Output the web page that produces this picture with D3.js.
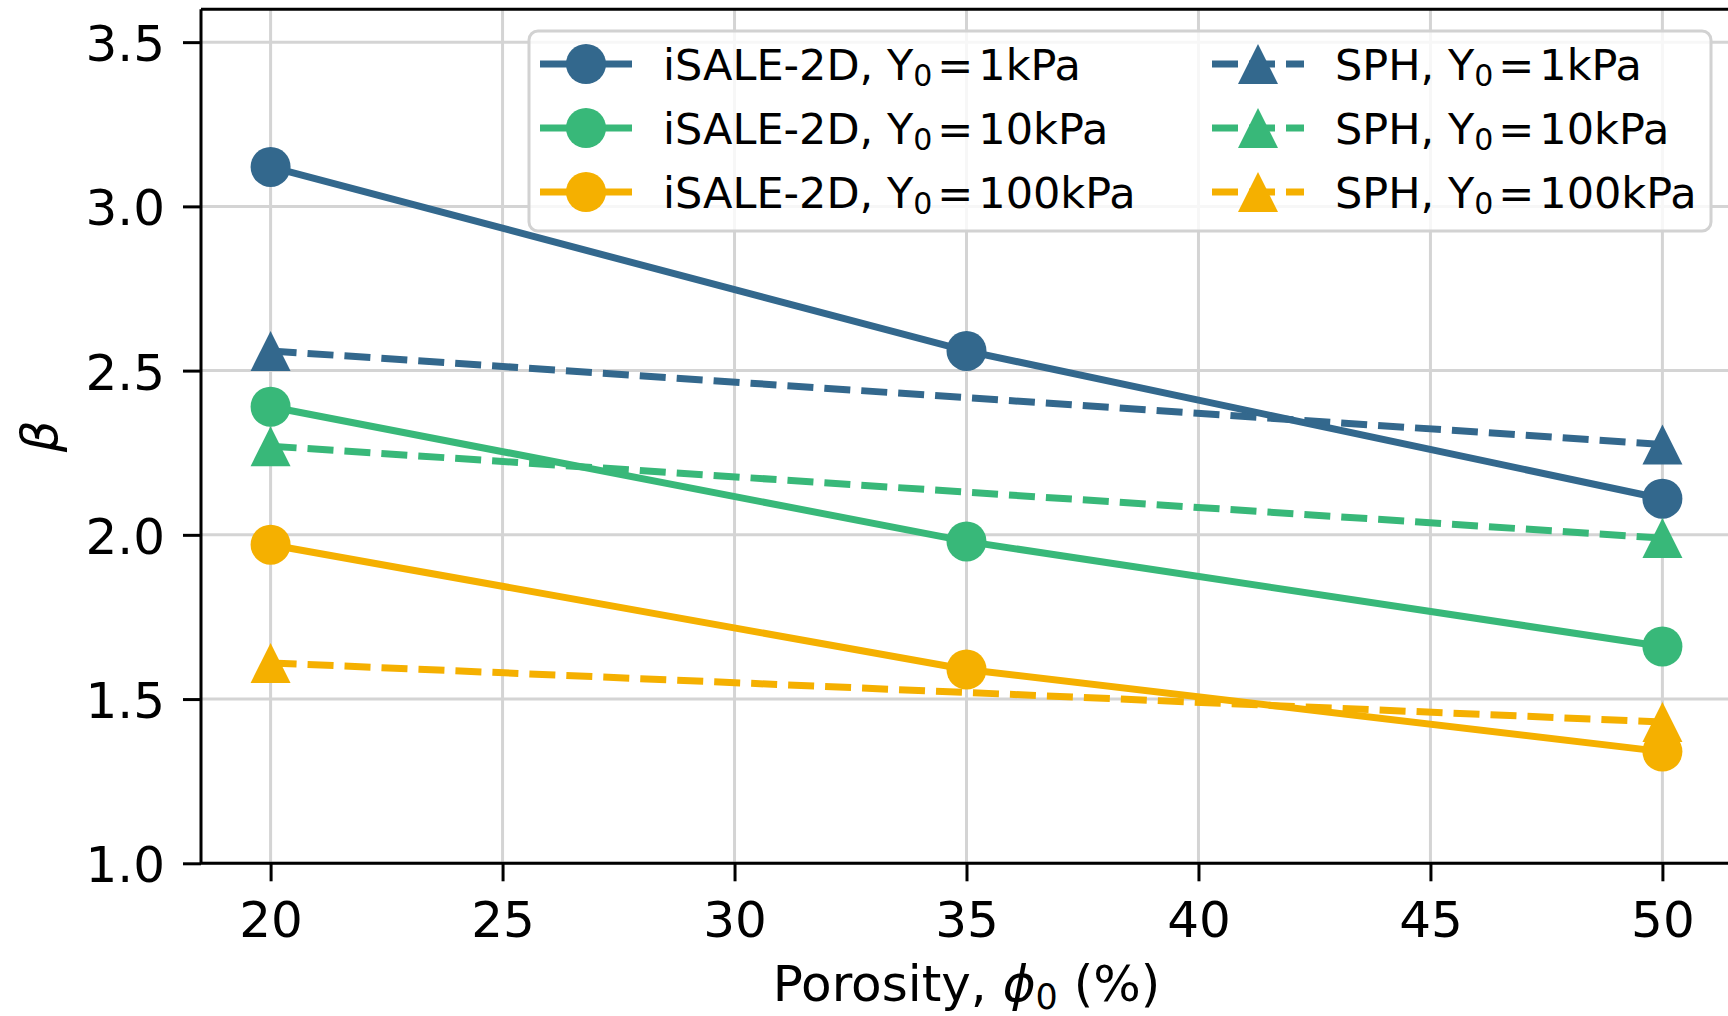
<!DOCTYPE html>
<html>
<head>
<meta charset="utf-8">
<script src="https://cdn.jsdelivr.net/npm/d3@7"></script>
<style>
  html, body { margin: 0; padding: 0; background: #fff; overflow: hidden; }
  svg { display: block; }
  text { font-family: "DejaVu Sans", sans-serif; fill: #000; }
</style>
</head>
<body>
<svg id="chart" width="1728" height="1016"></svg>
<script>
// ---------- data ----------
const porosity = [20, 35, 50];
const sphPorosity = [20, 50];
const isale1kPa = [3.12, 2.56, 2.11];
const isale10kPa = [2.39, 1.98, 1.66];
const isale100kPa = [1.97, 1.59, 1.34];
const sph1kPa = [2.56, 2.275];
const sph10kPa = [2.27, 1.99];
const sph100kPa = [1.61, 1.43];
const strengthLabels = ["1kPa", "10kPa", "100kPa"];
const seriesColors = ["#33688d", "#38b879", "#f5b000"];
const xTicks = [20, 25, 30, 35, 40, 45, 50];
const yTicks = [1.0, 1.5, 2.0, 2.5, 3.0, 3.5];
const xDomain = [18.5, 51.5];
const yDomain = [1.0, 3.6];

// ---------- layout ----------
const svg = d3.select("#chart");
const L = 201, R = 1732, T = 9.3, B = 863.3;
const x = d3.scaleLinear().domain(xDomain).range([L, R]);
const y = d3.scaleLinear().domain(yDomain).range([B, T]);
const LW = 7, MS = 40, DASH = "26,11";

// grid
const grid = svg.append("g");
grid.selectAll("line.gx").data(xTicks).enter().append("line")
  .attr("x1", d => x(d)).attr("x2", d => x(d)).attr("y1", T).attr("y2", B)
  .attr("stroke", "#d4d4d4").attr("stroke-width", 3);
grid.selectAll("line.gy").data(yTicks).enter().append("line")
  .attr("x1", L).attr("x2", R).attr("y1", d => y(d)).attr("y2", d => y(d))
  .attr("stroke", "#d4d4d4").attr("stroke-width", 3);

// series
const series = [
  {type: "isale", xs: porosity, ys: isale1kPa, c: 0},
  {type: "isale", xs: porosity, ys: isale10kPa, c: 1},
  {type: "isale", xs: porosity, ys: isale100kPa, c: 2},
  {type: "sph", xs: sphPorosity, ys: sph1kPa, c: 0},
  {type: "sph", xs: sphPorosity, ys: sph10kPa, c: 1},
  {type: "sph", xs: sphPorosity, ys: sph100kPa, c: 2}
];
const triPath = (s) => `M0,${-s/2}L${s/2},${s/2}L${-s/2},${s/2}Z`;
const line = d3.line().x(d => x(d[0])).y(d => y(d[1]));

const plot = svg.append("g");
series.forEach(s => {
  const pts = s.xs.map((v, i) => [v, s.ys[i]]);
  const col = seriesColors[s.c];
  const g = plot.append("g");
  g.append("path").attr("d", line(pts)).attr("fill", "none")
    .attr("stroke", col).attr("stroke-width", LW)
    .attr("stroke-dasharray", s.type === "sph" ? DASH : null);
  if (s.type === "isale") {
    g.selectAll("circle").data(pts).enter().append("circle")
      .attr("cx", d => x(d[0])).attr("cy", d => y(d[1])).attr("r", MS / 2)
      .attr("fill", col);
  } else {
    g.selectAll("path.m").data(pts).enter().append("path")
      .attr("class", "m")
      .attr("transform", d => `translate(${x(d[0])},${y(d[1])})`)
      .attr("d", triPath(MS)).attr("fill", col);
  }
});

// axes
const xAxis = d3.axisBottom(x).tickValues(xTicks).tickFormat(d3.format("d"))
  .tickSize(18).tickSizeOuter(0).tickPadding(20);
const yAxis = d3.axisLeft(y).tickValues(yTicks).tickFormat(d3.format(".1f"))
  .tickSize(18).tickSizeOuter(0).tickPadding(18);
const gx = svg.append("g").attr("transform", `translate(0,${B})`).call(xAxis);
const gy = svg.append("g").attr("transform", `translate(${L},0)`).call(yAxis);
[gx, gy].forEach(g => {
  g.selectAll("path.domain").remove();
  g.selectAll(".tick line").attr("stroke", "#000").attr("stroke-width", 3);
  g.selectAll(".tick text").attr("font-size", 50)
    .attr("font-family", "DejaVu Sans").attr("fill", "#000");
});
gy.selectAll(".tick text").attr("dy", "0.37em");
gx.selectAll(".tick text").attr("dy", "0.71em");

// spines
const spines = svg.append("g").attr("stroke", "#000").attr("stroke-width", 3);
spines.append("line").attr("x1", L).attr("x2", L).attr("y1", T).attr("y2", B);
spines.append("line").attr("x1", L).attr("x2", R).attr("y1", B).attr("y2", B);
spines.append("line").attr("x1", L).attr("x2", R).attr("y1", T).attr("y2", T);
spines.append("line").attr("x1", R).attr("x2", R).attr("y1", T).attr("y2", B);

// axis labels
const xl = svg.append("text").attr("x", (L + R) / 2).attr("y", 1001)
  .attr("text-anchor", "middle").attr("font-size", 50);
xl.append("tspan").text("Porosity, ");
xl.append("tspan").attr("font-style", "italic").text("ϕ");
xl.append("tspan").attr("font-size", 35).attr("dy", 8).text("0");
xl.append("tspan").attr("dy", -8).text(" (%)");

svg.append("text").attr("transform", `translate(57,${(T + B) / 2}) rotate(-90)`)
  .attr("text-anchor", "middle").attr("font-size", 50)
  .attr("font-style", "italic").text("β");

// legend
const leg = svg.append("g");
leg.append("rect").attr("x", 529).attr("y", 31).attr("width", 1711 - 529)
  .attr("height", 231 - 31).attr("rx", 9)
  .attr("fill", "#fff").attr("fill-opacity", 0.8)
  .attr("stroke", "#d2d2d2").attr("stroke-width", 3);
const colX = [540, 1212];
const rowY = [64, 128, 192];
const legendItems = series.map((s, i) => ({
  s, col: s.type === "isale" ? 0 : 1, row: s.c,
  prefix: s.type === "isale" ? "iSALE-2D, Y" : "SPH, Y"
}));
legendItems.forEach(it => {
  const x0 = colX[it.col], yc = rowY[it.row];
  const col = seriesColors[it.s.c];
  const g = leg.append("g");
  g.append("line").attr("x1", x0).attr("x2", x0 + 92).attr("y1", yc).attr("y2", yc)
    .attr("stroke", col).attr("stroke-width", LW)
    .attr("stroke-dasharray", it.s.type === "sph" ? DASH : null);
  if (it.s.type === "isale") {
    g.append("circle").attr("cx", x0 + 46).attr("cy", yc).attr("r", MS / 2).attr("fill", col);
  } else {
    g.append("path").attr("transform", `translate(${x0 + 46},${yc})`)
      .attr("d", triPath(MS)).attr("fill", col);
  }
  const t = g.append("text").attr("x", x0 + 123).attr("y", yc + 16.4).attr("font-size", 43);
  t.append("tspan").text(it.prefix);
  t.append("tspan").attr("font-size", 30).attr("dy", 6).text("0");
  t.append("tspan").attr("dy", -6).attr("dx", 5).text("=");
  t.append("tspan").attr("dx", 5).text(strengthLabels[it.s.c]);
});
</script>
</body>
</html>
